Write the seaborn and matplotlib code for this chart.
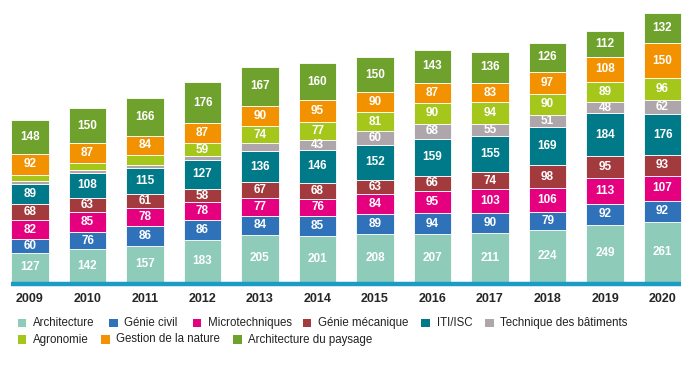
import numpy as np
import pandas as pd
import seaborn as sns
import matplotlib.pyplot as plt
from matplotlib.patches import Rectangle

annees = ["2009", "2010", "2011", "2012", "2013", "2014", "2015", "2016", "2017", "2018", "2019", "2020"]

architecture = [127, 142, 157, 183, 205, 201, 208, 207, 211, 224, 249, 261]
genie_civil = [60, 76, 86, 86, 84, 85, 89, 94, 90, 79, 92, 92]
microtechniques = [82, 85, 78, 78, 77, 76, 84, 95, 103, 106, 113, 107]
genie_mecanique = [68, 63, 61, 58, 67, 68, 63, 66, 74, 98, 95, 93]
iti_isc = [89, 108, 115, 127, 136, 146, 152, 159, 155, 169, 184, 176]
technique_bat = [15, 12, 13, 14, 34, 43, 60, 68, 55, 51, 48, 62]
agronomie = [25, 32, 42, 59, 74, 77, 81, 90, 94, 90, 89, 96]
gestion_nature = [92, 87, 84, 87, 90, 95, 90, 87, 83, 97, 108, 150]
archi_paysage = [148, 150, 166, 176, 167, 160, 150, 143, 136, 126, 112, 132]

filieres = ["Architecture", "Génie civil", "Microtechniques", "Génie mécanique", "ITI/ISC",
            "Technique des bâtiments", "Agronomie", "Gestion de la nature", "Architecture du paysage"]
series = [architecture, genie_civil, microtechniques, genie_mecanique, iti_isc,
          technique_bat, agronomie, gestion_nature, archi_paysage]
couleurs = ["#8ecbb9", "#2f72b9", "#e4007f", "#a33a3d", "#007a89",
            "#aea6ab", "#a5c61b", "#f39200", "#6ea22d"]

sns.set_style("white")
plt.rcParams["font.family"] = ["Liberation Sans", "DejaVu Sans"]

W, H = 700, 366
fig = plt.figure(figsize=(7, 3.66), dpi=100)
ax = fig.add_axes([1.25 / W, 84 / H, 690 / W, 282 / H])

bas = np.zeros(len(annees))
for nom, vals, c in zip(filieres, series, couleurs):
    df = pd.DataFrame({"annee": annees, "n": vals})
    sns.barplot(data=df, x="annee", y="n", color=c, bottom=bas, width=0.66,
                errorbar=None, edgecolor="white", linewidth=0.6, saturation=1, ax=ax)
    for i, v in enumerate(vals):
        if v >= 43:
            ax.text(i, bas[i] + v / 2, str(v), ha="center", va="center",
                    color="white", fontsize=8.5, fontweight="bold")
    bas += np.array(vals)

ax.set_xlim(-0.5, 11.5)
ax.set_ylim(0, 1226)
ax.hlines(-9, -0.33, 11.33, color="#1b9cc6", lw=3.2, clip_on=False)
ax.set_xlabel("")
ax.set_ylabel("")
ax.set_yticks([])
ax.set_xticks(range(len(annees)))
ax.set_xticklabels(annees, fontsize=9, fontweight="bold")
ax.tick_params(axis="x", length=0, pad=8)
sns.despine(ax=ax, left=True, bottom=True)

# légende manuelle sur deux lignes
pos_legende = [(17.5, 323), (109, 323), (192.5, 323), (302.5, 323), (421.5, 323), (485, 323),
               (17.5, 339.5), (101, 339.5), (233, 339.5)]
for (px, py), nom, c in zip(pos_legende, filieres, couleurs):
    fig.add_artist(Rectangle((px / W, 1 - (py + 4.3) / H), 8.6 / W, 8.6 / H,
                             transform=fig.transFigure, facecolor=c, edgecolor="none"))
    fig.text((px + 15.5) / W, 1 - py / H, nom, ha="left", va="center",
             fontsize=8.3, color="#222222")

fig.savefig("out.png", dpi=100)
